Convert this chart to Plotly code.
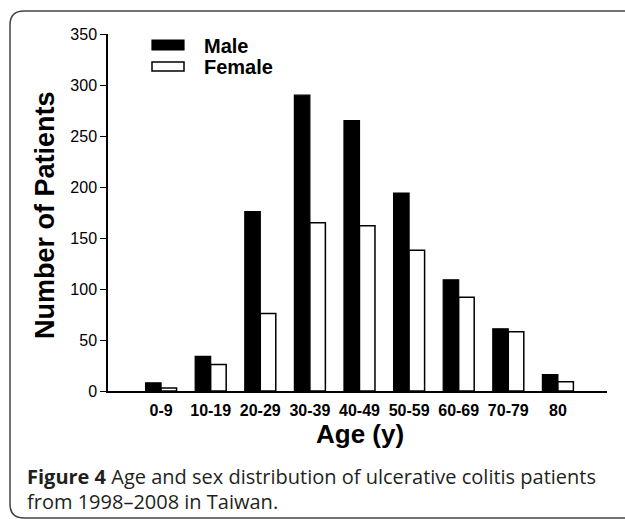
import plotly.graph_objects as go

age_groups = ["0-9", "10-19", "20-29", "30-39", "40-49", "50-59", "60-69", "70-79", "80"]
male = [8, 34, 176, 290, 265, 194, 109, 61, 16]
female = [3, 26, 76, 165, 162, 138, 92, 58, 9]
y_ticks = [0, 50, 100, 150, 200, 250, 300, 350]

W, H = 625, 519
L, R, T, B = 108, 18, 34, 128
PW, PH = W - L - R, H - T - B

def px(x):
    return (x - L) / PW

def py(y):
    return (H - B - y) / PH

AX_FONT = "Liberation Sans, Arial, sans-serif"

fig = go.Figure()
fig.add_trace(go.Bar(x=age_groups, y=male, name="Male",
                     marker=dict(color="black", line=dict(color="black", width=1.2))))
fig.add_trace(go.Bar(x=age_groups, y=female, name="Female",
                     marker=dict(color="white", line=dict(color="black", width=1.5))))

fig.update_layout(
    width=W, height=H,
    margin=dict(l=L, r=R, t=T, b=B),
    paper_bgcolor="white", plot_bgcolor="white",
    barmode="group", bargap=0.375, bargroupgap=0,
    showlegend=False,
    font=dict(family=AX_FONT, color="black"),
)
fig.update_xaxes(
    range=[-1.07, 8.99], showline=True, linecolor="black", linewidth=1.5,
    ticks="", tickfont=dict(size=16, family=AX_FONT, color="black"),
    tickprefix="<b>", ticksuffix="</b>",
    ticklabelstandoff=4, showgrid=False, zeroline=False,
)
fig.update_yaxes(
    range=[0, 350], tickvals=y_ticks, showline=True, linecolor="black", linewidth=1.5,
    ticks="outside", ticklen=6, tickwidth=1.2, tickcolor="black",
    tickprefix="<b>", ticksuffix="</b>",
    tickfont=dict(size=16, family=AX_FONT, color="black"),
    showgrid=False, zeroline=False,
)

# axis titles
fig.add_annotation(x=px(45), y=py(215), xref="paper", yref="paper",
                   xanchor="center", yanchor="middle",
                   text="<b>Number of Patients</b>", textangle=-90, showarrow=False,
                   font=dict(size=27, family=AX_FONT, color="black"))
fig.add_annotation(x=px(360), y=py(434), xref="paper", yref="paper",
                   xanchor="center", yanchor="middle",
                   text="<b>Age (y)</b>", showarrow=False,
                   font=dict(size=26, family=AX_FONT, color="black"))

# legend
fig.add_shape(type="rect", xref="paper", yref="paper",
              x0=px(152), x1=px(184), y0=py(50), y1=py(40),
              fillcolor="black", line=dict(color="black", width=1.2))
fig.add_shape(type="rect", xref="paper", yref="paper",
              x0=px(152), x1=px(184), y0=py(71), y1=py(62),
              fillcolor="white", line=dict(color="black", width=1.5))
fig.add_annotation(x=px(202), y=py(46), xref="paper", yref="paper",
                   xanchor="left", yanchor="middle",
                   text="<b>Male</b>", showarrow=False,
                   font=dict(size=20, family=AX_FONT, color="black"))
fig.add_annotation(x=px(202), y=py(67), xref="paper", yref="paper",
                   xanchor="left", yanchor="middle",
                   text="<b>Female</b>", showarrow=False,
                   font=dict(size=20, family=AX_FONT, color="black"))

# rounded frame
bx, by, rr = 10, 11, 14
path = (f"M {px(640)},{py(by)} L {px(bx + rr)},{py(by)} "
        f"Q {px(bx)},{py(by)} {px(bx)},{py(by + rr)} "
        f"L {px(bx)},{py(518 - rr)} Q {px(bx)},{py(518)} {px(bx + rr)},{py(518)} "
        f"L {px(640)},{py(518)}")
fig.add_shape(type="path", path=path, xref="paper", yref="paper",
              line=dict(color="#444444", width=1.5))

# caption
CAP_FONT = "Open Sans, Noto Sans, sans-serif"
fig.add_annotation(x=px(25), y=py(476), xref="paper", yref="paper", xanchor="left", yanchor="middle",
                   text="<b>Figure 4</b> Age and sex distribution of ulcerative colitis patients",
                   showarrow=False, align="left",
                   font=dict(size=20, family=CAP_FONT, color="#231f20"))
fig.add_annotation(x=px(25), y=py(501), xref="paper", yref="paper", xanchor="left", yanchor="middle",
                   text="from 1998\u20132008 in Taiwan.",
                   showarrow=False, align="left",
                   font=dict(size=20, family=CAP_FONT, color="#231f20"))

fig.write_html("out.html", config={"displayModeBar": False},
               post_script="document.body.style.margin='0px';document.body.style.overflow='hidden';")
